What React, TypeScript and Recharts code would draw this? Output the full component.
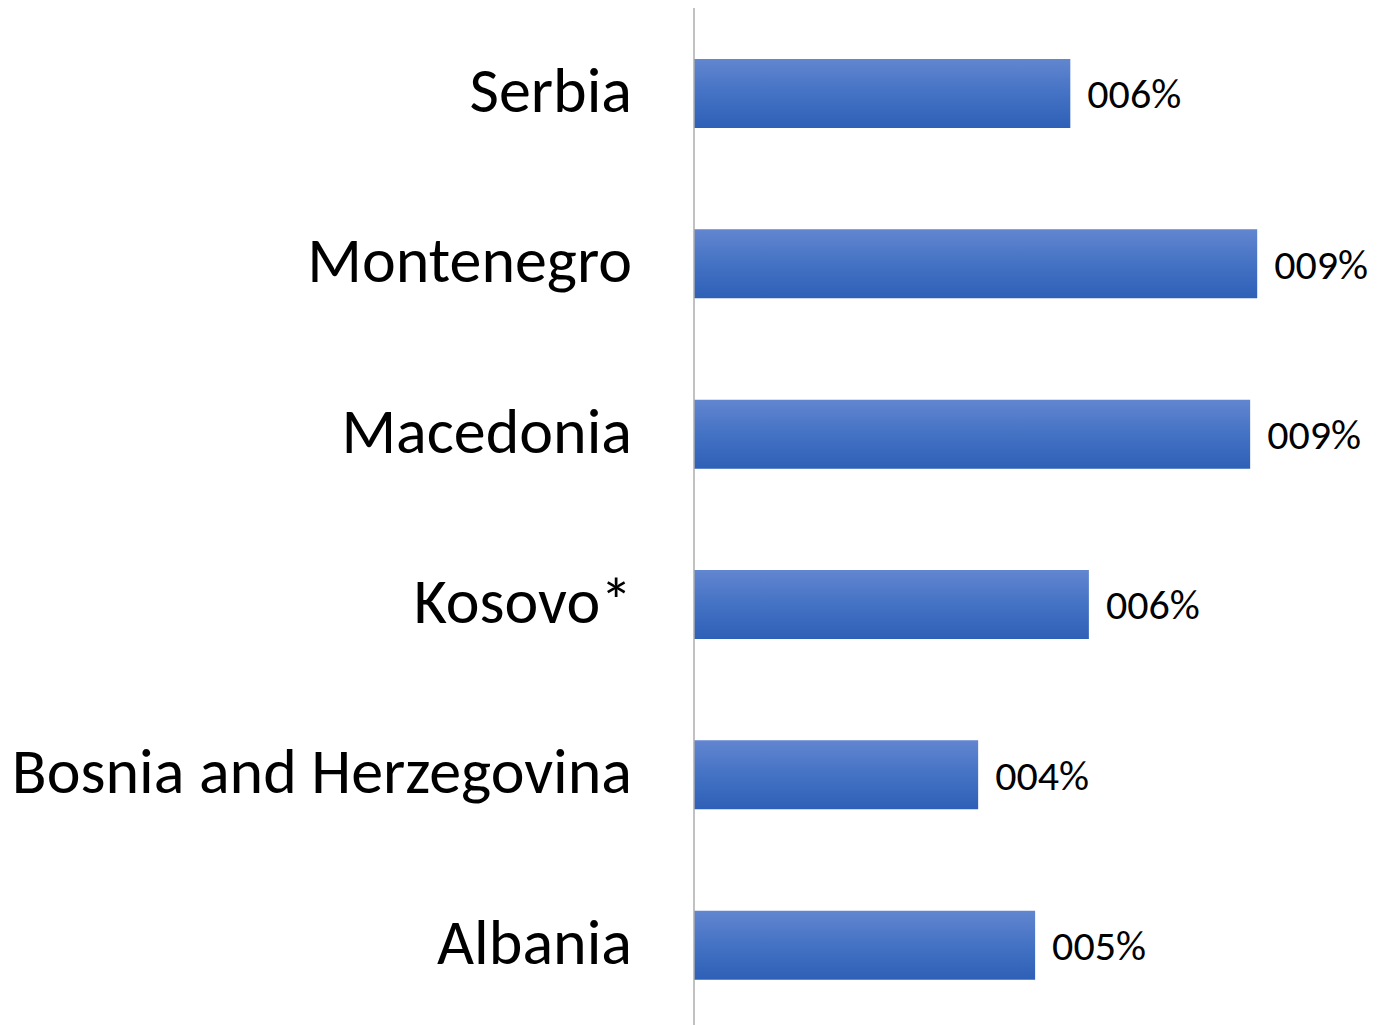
import { BarChart, Bar, XAxis, YAxis, LabelList } from "recharts";

const countries = [
  "Serbia",
  "Montenegro",
  "Macedonia",
  "Kosovo*",
  "Bosnia and Herzegovina",
  "Albania",
];

// share in percent
const shares = [5.88, 8.8, 8.69, 6.17, 4.44, 5.33];

const data = countries.map((name, i) => ({ name, share: shares[i] }));

const FONT = "Carlito, 'Open Sans', sans-serif";

function formatShare(v: number) {
  return `${String(Math.round(v)).padStart(3, "0")}%`;
}

export default function App() {
  return (
    <div
      style={{
        position: "absolute",
        left: 0,
        top: 0,
        width: 1391,
        height: 1025,
        overflow: "hidden",
        background: "#fff",
      }}
    >
      <BarChart
        width={1391}
        height={1030}
        data={data}
        layout="vertical"
        margin={{ top: 8, right: 57, bottom: 0, left: 0 }}
      >
        <defs>
          <linearGradient id="barFill" x1="0" y1="0" x2="0" y2="1">
            <stop offset="0%" stopColor="#6286D0" />
            <stop offset="50%" stopColor="#4472C4" />
            <stop offset="100%" stopColor="#2E60B7" />
          </linearGradient>
        </defs>
        <XAxis type="number" domain={[0, 10]} hide />
        <YAxis
          type="category"
          dataKey="name"
          width={694}
          axisLine={{ stroke: "#ADADAD", strokeWidth: 1.5 }}
          tickLine={false}
          tickSize={0}
          tickMargin={62}
          tick={{ fontSize: 64, fill: "#000", fontFamily: FONT, dy: -4 }}
        />
        <Bar
          dataKey="share"
          fill="url(#barFill)"
          barSize={69}
          isAnimationActive={false}
        >
          <LabelList
            dataKey="share"
            position="right"
            offset={17}
            formatter={(v: any) => formatShare(Number(v))}
            style={{ fontSize: 42, fill: "#000", fontFamily: FONT }}
          />
        </Bar>
      </BarChart>
    </div>
  );
}
